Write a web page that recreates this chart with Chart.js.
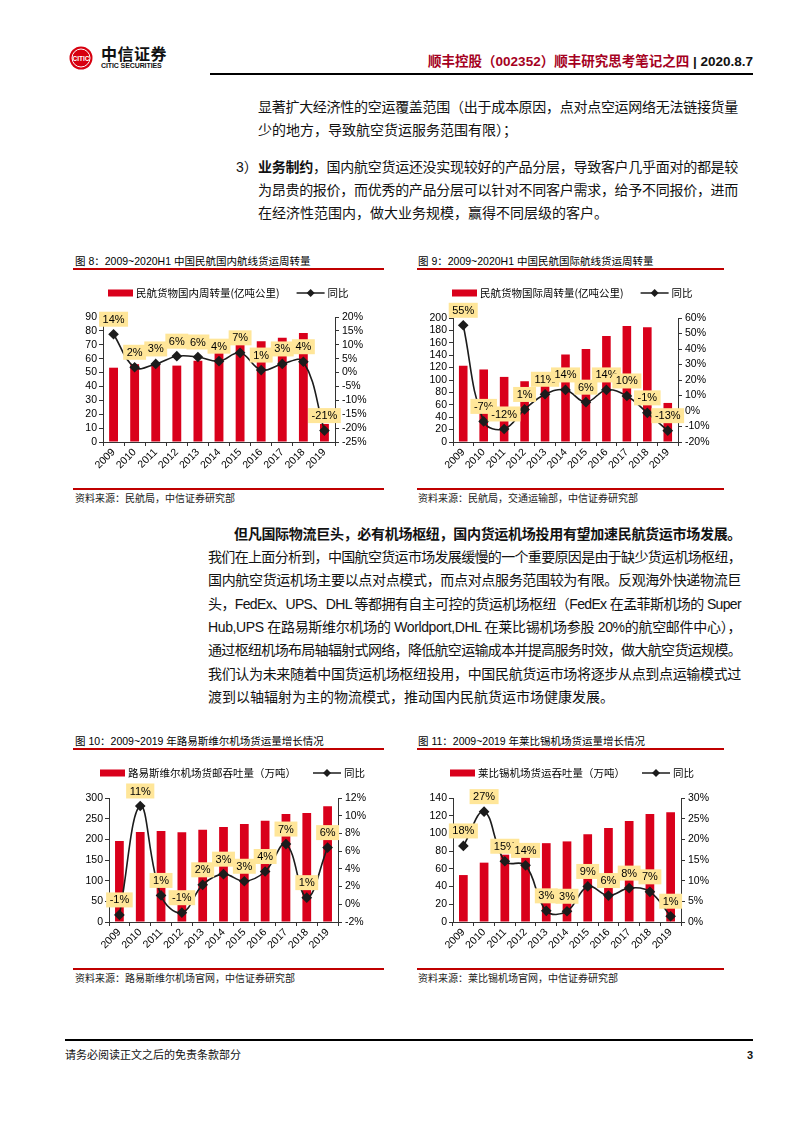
<!DOCTYPE html>
<html lang="zh-CN">
<head>
<meta charset="UTF-8">
<title>顺丰控股（002352）顺丰研究思考笔记之四 | 第3页</title>
<script src="https://cdn.jsdelivr.net/npm/chart.js@4.4.0/dist/chart.umd.min.js"></script>
<style>
  body { margin: 0; background: #fff; color: #111; font-family: "Liberation Sans", "Noto Sans CJK SC", sans-serif; }
  .page { position: relative; width: 793px; height: 1122px; overflow: hidden; }
  .abs { position: absolute; }
  .ln { position: absolute; font-size: 14px; line-height: 18px; }
  .j { text-align: justify; text-align-last: justify; }
  .rule { position: absolute; height: 1.5px; background: #C00000; }
  .ftitle { position: absolute; font-size: 10.5px; line-height: 14px; color: #000; }
  .src { position: absolute; font-size: 10px; line-height: 14px; color: #222; }
  canvas { position: absolute; }
</style>
</head>
<body>
<div class="page">
  <!-- header -->
  <svg class="abs" style="left:69px;top:46px" width="24" height="24" viewBox="0 0 24 24">
    <circle cx="12" cy="12" r="11.5" fill="#D7000F"/>
    <circle cx="12" cy="12" r="9" fill="none" stroke="#fff" stroke-width="1"/>
    <text x="12" y="14.6" font-family="Liberation Sans" font-size="6.5" font-weight="bold" fill="#fff" text-anchor="middle">CITIC</text>
  </svg>
  <div class="abs" style="left:101px;top:44px;font-size:16px;line-height:18px;font-weight:bold;letter-spacing:0.5px;font-family:'Noto Sans CJK SC'">中信证券</div>
  <div class="abs" style="left:101px;top:62px;font-size:7px;line-height:8px;font-weight:bold;letter-spacing:-0.1px">CITIC SECURITIES</div>
  <div class="abs" style="right:40px;top:54px;font-size:13.5px;line-height:16px;font-weight:bold;white-space:nowrap">
    <span style="color:#A50021">顺丰控股（002352）顺丰研究思考笔记之四</span> | 2020.8.7
  </div>
  <div class="abs" style="left:210px;top:73px;width:543px;height:2px;background:#000"></div>

  <!-- paragraph 1 -->
  <div class="ln j" style="left:258px;top:98px;width:480px">显著扩大经济性的空运覆盖范围（出于成本原因，点对点空运网络无法链接货量</div>
  <div class="ln" style="left:258px;top:121px">少的地方，导致航空货运服务范围有限）；</div>
  <div class="ln" style="left:236px;top:158px">3）</div>
  <div class="ln j" style="left:258px;top:158px;width:480px"><b>业务制约</b>，国内航空货运还没实现较好的产品分层，导致客户几乎面对的都是较</div>
  <div class="ln j" style="left:258px;top:181px;width:480px">为昂贵的报价，而优秀的产品分层可以针对不同客户需求，给予不同报价，进而</div>
  <div class="ln" style="left:258px;top:204px">在经济性范围内，做大业务规模，赢得不同层级的客户。</div>

  <!-- figures 8 and 9 -->
  <div class="ftitle" style="left:75px;top:254px">图 8：2009~2020H1 中国民航国内航线货运周转量</div>
  <div class="rule" style="left:73px;top:268px;width:311px"></div>
  <div class="ftitle" style="left:418px;top:254px">图 9：2009~2020H1 中国民航国际航线货运周转量</div>
  <div class="rule" style="left:417px;top:268px;width:307px"></div>
  <canvas id="fig8" width="330" height="195" style="left:70px;top:280px"></canvas>
  <canvas id="fig9" width="320" height="195" style="left:410px;top:280px"></canvas>
  <div class="rule" style="left:73px;top:488px;width:311px"></div>
  <div class="rule" style="left:417px;top:488px;width:307px"></div>
  <div class="src" style="left:75px;top:492px">资料来源：民航局，中信证券研究部</div>
  <div class="src" style="left:418px;top:492px">资料来源：民航局，交通运输部，中信证券研究部</div>

  <!-- paragraph 2 -->
  <div class="ln j" style="left:234px;top:525px;width:507px;font-weight:bold">但凡国际物流巨头，必有机场枢纽，国内货运机场投用有望加速民航货运市场发展。</div>
  <div class="ln j" style="left:208px;top:548px;width:533px">我们在上面分析到，中国航空货运市场发展缓慢的一个重要原因是由于缺少货运机场枢纽，</div>
  <div class="ln j" style="left:208px;top:571px;width:533px">国内航空货运机场主要以点对点模式，而点对点服务范围较为有限。反观海外快递物流巨</div>
  <div class="ln j" style="left:208px;top:595px;width:533px">头，FedEx、UPS、DHL 等都拥有自主可控的货运机场枢纽（FedEx 在孟菲斯机场的 Super</div>
  <div class="ln j" style="left:208px;top:618px;width:533px">Hub,UPS 在路易斯维尔机场的 Worldport,DHL 在莱比锡机场参股 20%的航空邮件中心），</div>
  <div class="ln j" style="left:208px;top:641px;width:533px">通过枢纽机场布局轴辐射式网络，降低航空运输成本并提高服务时效，做大航空货运规模。</div>
  <div class="ln j" style="left:208px;top:665px;width:533px">我们认为未来随着中国货运机场枢纽投用，中国民航货运市场将逐步从点到点运输模式过</div>
  <div class="ln" style="left:208px;top:688px">渡到以轴辐射为主的物流模式，推动国内民航货运市场健康发展。</div>

  <!-- figures 10 and 11 -->
  <div class="ftitle" style="left:75px;top:734px">图 10：2009~2019 年路易斯维尔机场货运量增长情况</div>
  <div class="rule" style="left:73px;top:748px;width:311px"></div>
  <div class="ftitle" style="left:418px;top:734px">图 11：2009~2019 年莱比锡机场货运量增长情况</div>
  <div class="rule" style="left:417px;top:748px;width:307px"></div>
  <canvas id="fig10" width="330" height="195" style="left:70px;top:760px"></canvas>
  <canvas id="fig11" width="320" height="195" style="left:410px;top:760px"></canvas>
  <div class="rule" style="left:73px;top:968px;width:311px"></div>
  <div class="rule" style="left:417px;top:968px;width:307px"></div>
  <div class="src" style="left:75px;top:972px">资料来源：路易斯维尔机场官网，中信证券研究部</div>
  <div class="src" style="left:418px;top:972px">资料来源：莱比锡机场官网，中信证券研究部</div>

  <!-- footer -->
  <div class="abs" style="left:65px;top:1039px;width:688px;height:1.5px;background:#000"></div>
  <div class="abs" style="left:65px;top:1048px;font-size:11px;line-height:14px">请务必阅读正文之后的免责条款部分</div>
  <div class="abs" style="left:747px;top:1048px;font-size:11px;line-height:14px;font-weight:bold">3</div>
</div>

<script>
  // ---- data ----
  const years = ['2009', '2010', '2011', '2012', '2013', '2014', '2015', '2016', '2017', '2018', '2019'];

  // fig 8: domestic routes (亿吨公里) and yoy %
  const domVolume = [53.5, 56, 56, 55, 58.5, 64, 70, 72.5, 75, 78.5, 13];
  const domYoy = [13.8, 1.9, 3.1, 5.9, 5.6, 4.1, 7.1, 0.9, 3.1, 3.9, -20.9];
  const domLeftAxis = [0, 90, 10];
  const domRightAxis = [-25, 20, 5];

  // fig 9: international routes
  const intlVolume = [123, 117, 105, 98, 109, 141, 150, 171, 187, 185, 63];
  const intlYoy = [55.3, -6.7, -11.6, 1.0, 10.8, 13.6, 5.7, 13.6, 9.7, -1.2, -12.7];
  const intlLeftAxis = [0, 200, 20];
  const intlRightAxis = [-20, 60, 10];

  // fig 10: Louisville (万吨)
  const louVolume = [196, 218, 220, 217, 223, 230, 237, 245, 261, 264, 280];
  const louYoy = [-1.2, 11.1, 1.0, -0.95, 2.2, 3.4, 2.6, 3.7, 6.8, 0.75, 6.4];
  const louLeftAxis = [0, 300, 50];
  const louRightAxis = [-2, 12, 2];

  // fig 11: Leipzig (万吨)
  const leiVolume = [53, 67, 76, 86, 89, 91, 99, 106, 114, 122, 124];
  const leiYoy = [18.4, 26.7, 14.7, 13.7, 2.7, 2.6, 8.6, 6.4, 8.2, 7.3, 1.4];
  const leiLeftAxis = [0, 140, 20];
  const leiRightAxis = [0, 30, 5];

  const RED = '#D9001B';
  const LINE = '#1c1c1c';
  const TAG = '#FFE699';
  const AXIS = '#333';
  const tickFont = { family: 'Liberation Sans', size: 10.5 };

  // fit justified text lines into their widths
  document.querySelectorAll('.ln.j').forEach(el => {
    const w = parseFloat(el.style.width);
    el.style.whiteSpace = 'nowrap';
    el.style.width = 'auto';
    const nat = el.getBoundingClientRect().width;
    if (nat > w) {
      el.style.letterSpacing = ((w - nat) / el.textContent.length - 0.05) + 'px';
    }
    el.style.width = w + 'px';
    el.style.whiteSpace = '';
  });

  // one-row legend: red box + bar label, line with diamond + line label
  const rowLegend = {
    id: 'rowLegend',
    afterDraw(chart, args, opts) {
      const ctx = chart.ctx;
      const y = opts.y;
      let x = opts.x;
      ctx.save();
      ctx.fillStyle = RED;
      ctx.fillRect(x, y - 3.5, 25, 7);
      x += 28;
      ctx.font = '10.5px "Noto Sans CJK SC"';
      ctx.fillStyle = '#000';
      ctx.textBaseline = 'middle';
      ctx.textAlign = 'left';
      const barText = chart.data.datasets[1].label;
      ctx.fillText(barText, x, y);
      x += ctx.measureText(barText).width + 17;
      ctx.strokeStyle = LINE;
      ctx.lineWidth = 1.5;
      ctx.beginPath();
      ctx.moveTo(x, y);
      ctx.lineTo(x + 28, y);
      ctx.stroke();
      ctx.fillStyle = LINE;
      ctx.beginPath();
      ctx.moveTo(x + 14, y - 4);
      ctx.lineTo(x + 18, y);
      ctx.lineTo(x + 14, y + 4);
      ctx.lineTo(x + 10, y);
      ctx.closePath();
      ctx.fill();
      ctx.fillStyle = '#000';
      ctx.fillText(chart.data.datasets[0].label, x + 31, y);
      ctx.restore();
    }
  };

  // yellow yoy tags above each line point
  const yoyTags = {
    id: 'yoyTags',
    afterDatasetsDraw(chart) {
      const ctx = chart.ctx;
      const meta = chart.getDatasetMeta(0);
      const vals = chart.data.datasets[0].data;
      ctx.save();
      ctx.font = '11px "Liberation Sans"';
      ctx.textAlign = 'center';
      ctx.textBaseline = 'middle';
      meta.data.forEach((pt, i) => {
        const txt = Math.round(vals[i]) + '%';
        const w = ctx.measureText(txt).width + 7;
        const h = 15;
        const cy = pt.y - 15;
        ctx.fillStyle = TAG;
        ctx.fillRect(pt.x - w / 2, cy - h / 2, w, h);
        ctx.fillStyle = '#000';
        ctx.fillText(txt, pt.x, cy + 0.5);
      });
      ctx.restore();
    }
  };

  function makeChart(id, barLabel, volume, yoy, leftAxis, rightAxis, box) {
    new Chart(document.getElementById(id), {
      type: 'bar',
      data: {
        labels: years,
        datasets: [
          {
            type: 'line', label: '同比', data: yoy, yAxisID: 'y1', order: 0,
            borderColor: LINE, borderWidth: 1.6, tension: 0.4,
            pointStyle: 'rectRot', pointRadius: 4.2,
            pointBackgroundColor: LINE, pointBorderColor: LINE, clip: false
          },
          {
            type: 'bar', label: barLabel, data: volume, yAxisID: 'y', order: 1,
            backgroundColor: RED, barPercentage: 0.42, categoryPercentage: 1
          }
        ]
      },
      options: {
        responsive: false,
        animation: false,
        layout: { padding: { top: box.top, left: 0, right: 0, bottom: 0 } },
        plugins: {
          legend: { display: false },
          tooltip: { enabled: false },
          rowLegend: { x: box.legendX, y: 13 }
        },
        scales: {
          x: {
            grid: { display: true, drawOnChartArea: false, offset: true, tickLength: 4, color: AXIS },
            border: { color: AXIS },
            ticks: { font: tickFont, color: '#000', minRotation: 45, maxRotation: 45, padding: 0, autoSkip: false },
            afterFit: s => { s.height = box.xh; }
          },
          y: {
            position: 'left',
            min: leftAxis[0], max: leftAxis[1],
            ticks: { stepSize: leftAxis[2], font: tickFont, color: '#000', padding: 2, autoSkip: false },
            grid: { drawOnChartArea: false, tickLength: 4, color: AXIS },
            border: { color: AXIS },
            afterFit: s => { s.width = box.lw; }
          },
          y1: {
            position: 'right',
            min: rightAxis[0], max: rightAxis[1],
            ticks: { stepSize: rightAxis[2], font: tickFont, color: '#000', padding: 3, autoSkip: false, callback: v => v + '%' },
            grid: { drawOnChartArea: false, tickLength: 4, color: AXIS },
            border: { color: AXIS },
            afterFit: s => { s.width = box.rw; }
          }
        }
      },
      plugins: [rowLegend, yoyTags]
    });
  }

  makeChart('fig8', '民航货物国内周转量(亿吨公里)', domVolume, domYoy, domLeftAxis, domRightAxis,
    { top: 37, lw: 33, rw: 65, xh: 33, legendX: 38 });
  makeChart('fig9', '民航货物国际周转量(亿吨公里)', intlVolume, intlYoy, intlLeftAxis, intlRightAxis,
    { top: 38, lw: 43, rw: 52, xh: 33, legendX: 42 });
  makeChart('fig10', '路易斯维尔机场货邮吞吐量（万吨）', louVolume, louYoy, louLeftAxis, louRightAxis,
    { top: 38, lw: 39, rw: 62, xh: 33, legendX: 30 });
  makeChart('fig11', '莱比锡机场货运吞吐量（万吨）', leiVolume, leiYoy, leiLeftAxis, leiRightAxis,
    { top: 38, lw: 43, rw: 49, xh: 33, legendX: 40 });
</script>
</body>
</html>
